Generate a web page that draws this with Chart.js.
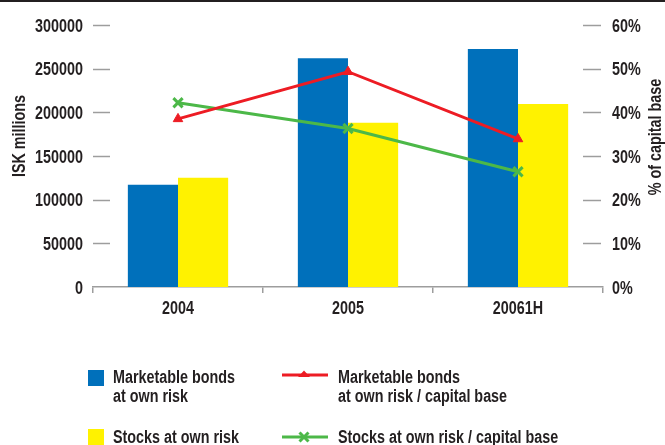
<!DOCTYPE html>
<html>
<head>
<meta charset="utf-8">
<script src="https://cdn.jsdelivr.net/npm/chart.js@4/dist/chart.umd.min.js"></script>
<style>
  html, body { margin: 0; padding: 0; background: #fff; }
  #wrap { position: relative; width: 665px; height: 445px; overflow: hidden; }
  #rule { position: absolute; left: 0; top: 0; width: 665px; height: 2px; background: #231f20; }
  #chart { position: absolute; left: 0; top: 0; }
  .lg-item { position: absolute; font-family: 'Liberation Sans', Arial, sans-serif;
             font-weight: bold; font-size: 17.5px; line-height: 19px; color: #231f20;
             white-space: pre; transform: scaleX(0.82); transform-origin: 0 0; }
  .lg-swatch { position: absolute; }
</style>
</head>
<body>
<div id="wrap">
  <canvas id="chart" width="665" height="445"></canvas>
  <div id="rule"></div>
  <div id="legend"></div>
</div>
<script>
// Periods shown on the category axis
const categories = ['2004', '2005', '20061H'];

// ISK millions (left axis)
const bondsAtOwnRisk = [117000, 262000, 272500];
const stocksAtOwnRisk = [125000, 188000, 209500];

// Share of capital base, % (right axis)
const bondsToCapital = [38.5, 49.3, 33.9];
const stocksToCapital = [42.2, 36.3, 26.4];

// Axis tick values
const leftTicks = [0, 50000, 100000, 150000, 200000, 250000, 300000];
const rightTicks = [0, 10, 20, 30, 40, 50, 60];

const seriesNames = {
  bonds: 'Marketable bonds\nat own risk',
  stocks: 'Stocks at own risk',
  bondsRatio: 'Marketable bonds\nat own risk / capital base',
  stocksRatio: 'Stocks at own risk / capital base'
};

const FONT = "'Liberation Sans', Arial, sans-serif";
const FONT_SIZE = 17.5;
const NARROW = 0.82;           // horizontal squeeze for a condensed look
const INK = '#231f20';
const TICK_GREY = '#9d9d9d';
const BLUE = '#0070bb';
const YELLOW = '#fff200';
const RED = '#ed1c24';
const GREEN = '#4cb848';

function narrowText(ctx, text, x, y, align, rotation) {
  ctx.save();
  ctx.translate(x, y);
  if (rotation) ctx.rotate(rotation);
  ctx.scale(NARROW, 1);
  ctx.textAlign = align;
  ctx.textBaseline = 'alphabetic';
  ctx.fillText(text, 0, 0);
  ctx.restore();
}

// Inward tick marks, condensed tick labels and rotated axis titles
const axisDecor = {
  id: 'axisDecor',
  afterDraw(chart) {
    const { ctx, chartArea, scales } = chart;
    ctx.save();
    ctx.strokeStyle = TICK_GREY;
    ctx.lineWidth = 1.5;
    leftTicks.forEach(v => {
      if (v === 0) return;
      const y = Math.round(scales.y.getPixelForValue(v)) + 0.5;
      ctx.beginPath(); ctx.moveTo(chartArea.left, y); ctx.lineTo(chartArea.left + 17, y); ctx.stroke();
    });
    rightTicks.forEach(v => {
      if (v === 0) return;
      const y = Math.round(scales.y1.getPixelForValue(v)) + 0.5;
      ctx.beginPath(); ctx.moveTo(chartArea.right - 20, y); ctx.lineTo(chartArea.right - 2, y); ctx.stroke();
    });

    ctx.fillStyle = INK;
    ctx.font = 'bold ' + FONT_SIZE + 'px ' + FONT;
    const capHalf = 6.5;
    leftTicks.forEach(v => {
      narrowText(ctx, String(v), chartArea.left - 10, scales.y.getPixelForValue(v) + capHalf, 'right');
    });
    rightTicks.forEach(v => {
      narrowText(ctx, v + '%', chartArea.right + 9, scales.y1.getPixelForValue(v) + capHalf, 'left');
    });
    categories.forEach((c, i) => {
      narrowText(ctx, c, scales.x.getPixelForTick(i), chartArea.bottom + 27, 'center');
    });
    narrowText(ctx, 'ISK millions', 25, 136, 'center', -Math.PI / 2);
    narrowText(ctx, '% of capital base', 661, 137, 'center', -Math.PI / 2);
    ctx.restore();
  }
};

const chart = new Chart(document.getElementById('chart'), {
  type: 'bar',
  data: {
    labels: categories,
    datasets: [
      { type: 'bar', label: seriesNames.bonds, data: bondsAtOwnRisk, yAxisID: 'y',
        backgroundColor: BLUE, borderWidth: 0, categoryPercentage: 0.59, barPercentage: 1.0, order: 2 },
      { type: 'bar', label: seriesNames.stocks, data: stocksAtOwnRisk, yAxisID: 'y',
        backgroundColor: YELLOW, borderWidth: 0, categoryPercentage: 0.59, barPercentage: 1.0, order: 2 },
      { type: 'line', label: seriesNames.bondsRatio, data: bondsToCapital, yAxisID: 'y1',
        borderColor: RED, backgroundColor: RED, borderWidth: 3, tension: 0,
        pointStyle: 'triangle', pointRadius: 5.5, pointBorderWidth: 1, order: 0 },
      { type: 'line', label: seriesNames.stocksRatio, data: stocksToCapital, yAxisID: 'y1',
        borderColor: GREEN, backgroundColor: GREEN, borderWidth: 3, tension: 0,
        pointStyle: 'crossRot', pointRadius: 6.5, pointBorderWidth: 3, order: 0 }
    ]
  },
  options: {
    responsive: false,
    animation: false,
    events: [],
    layout: { padding: { top: 25, bottom: 128, left: 0, right: 0 } },
    plugins: { legend: { display: false }, tooltip: { enabled: false } },
    scales: {
      x: {
        offset: true,
        grid: { display: true, drawOnChartArea: false, drawTicks: true, tickLength: 6,
                color: TICK_GREY, lineWidth: 1.5, offset: true },
        border: { display: true, color: TICK_GREY, width: 1.5 },
        ticks: { display: false },
        afterFit: s => { s.height = 30; }
      },
      y: {
        position: 'left', min: 0, max: 300000,
        afterBuildTicks: s => { s.ticks = leftTicks.map(v => ({ value: v })); },
        grid: { display: false, drawTicks: false },
        border: { display: false },
        ticks: { display: false },
        afterFit: s => { s.width = 93; }
      },
      y1: {
        position: 'right', min: 0, max: 60,
        afterBuildTicks: s => { s.ticks = rightTicks.map(v => ({ value: v })); },
        grid: { display: false, drawTicks: false },
        border: { display: false },
        ticks: { display: false },
        afterFit: s => { s.width = 62; }
      }
    }
  },
  plugins: [axisDecor]
});

// Legend: two columns, bars on the left, ratio lines on the right
const legendEl = document.getElementById('legend');
const legendSpots = [
  { ds: 0, kind: 'box', sx: 88, sy: 370, tx: 113, ty: 368 },
  { ds: 1, kind: 'box', sx: 88, sy: 429, tx: 113, ty: 428 },
  { ds: 2, kind: 'tri', sx: 282, sy: 365, tx: 338, ty: 368 },
  { ds: 3, kind: 'x',   sx: 282, sy: 427, tx: 338, ty: 428 }
];
legendSpots.forEach(spot => {
  const ds = chart.data.datasets[spot.ds];
  const sw = document.createElement('div');
  sw.className = 'lg-swatch';
  sw.style.left = spot.sx + 'px';
  sw.style.top = spot.sy + 'px';
  if (spot.kind === 'box') {
    sw.style.width = '16px'; sw.style.height = '16px'; sw.style.background = ds.backgroundColor;
  } else {
    const c = ds.borderColor;
    const mark = spot.kind === 'tri'
      ? `<polygon points="22,5.5 28,12 16,12" fill="${c}"/>`
      : `<path d="M17.5,5.5 L26.5,14.5 M26.5,5.5 L17.5,14.5" stroke="${c}" stroke-width="3"/>`;
    sw.innerHTML = `<svg width="46" height="20" viewBox="0 0 46 20">
      <line x1="0" y1="10" x2="46" y2="10" stroke="${c}" stroke-width="3"/>${mark}</svg>`;
  }
  legendEl.appendChild(sw);
  const tx = document.createElement('div');
  tx.className = 'lg-item';
  tx.style.left = spot.tx + 'px';
  tx.style.top = spot.ty + 'px';
  tx.textContent = ds.label;
  legendEl.appendChild(tx);
});
</script>
</body>
</html>
